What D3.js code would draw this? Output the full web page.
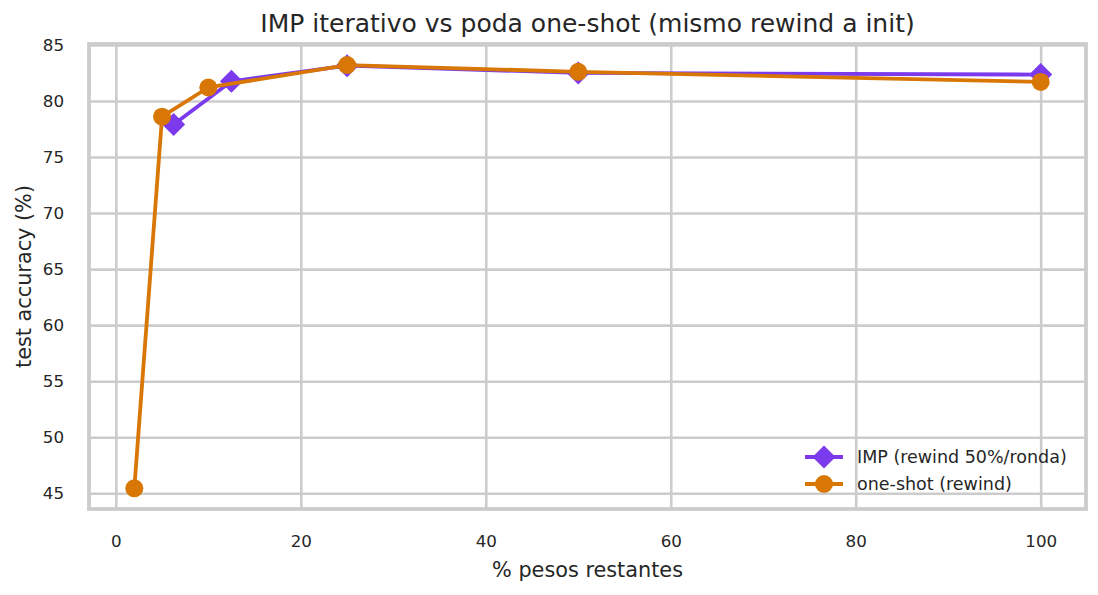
<!DOCTYPE html>
<html>
<head>
<meta charset="utf-8">
<script src="https://cdn.jsdelivr.net/npm/d3@7"></script>
<style>
  body { margin: 0; background: #fff; }
  text { font-family: "DejaVu Sans", sans-serif; fill: #262626; }
</style>
</head>
<body>
<svg width="1098" height="595"></svg>
<script>
// **** data ****
var impX = [100, 50, 25, 12.5, 6.25];
var impY = [82.35, 82.5, 83.15, 81.75, 77.9];
var oneX = [100, 50, 25, 10, 5, 2];
var oneY = [81.7, 82.6, 83.2, 81.2, 78.6, 45.45];
var xTicks = [0, 20, 40, 60, 80, 100];
var yTicks = [45, 50, 55, 60, 65, 70, 75, 80, 85];
var seriesNames = ["IMP (rewind 50%/ronda)", "one-shot (rewind)"];

var purple = "#7c3aed", orange = "#d97706", grid = "#cccccc";

var plotLeft = 89, plotRight = 1086, plotTop = 44, plotBottom = 509;

var xScale = d3.scaleLinear().domain([-2.9, 104.9]).range([plotLeft, plotRight]);
var yScale = d3.scaleLinear().domain([43.6, 85.08]).range([plotBottom, plotTop]);

var svg = d3.select("svg");

// grid
svg.append("g").attr("class", "x grid")
    .attr("transform", "translate(0," + plotBottom + ")")
    .call(d3.axisBottom(xScale).tickValues(xTicks).tickSize(-(plotBottom - plotTop)).tickFormat(""))
    .call(function(g) {
        g.select(".domain").remove();
        g.selectAll("line").attr("stroke", grid).attr("stroke-width", 2.6);
    });

svg.append("g").attr("class", "y grid")
    .attr("transform", "translate(" + plotLeft + ",0)")
    .call(d3.axisLeft(yScale).tickValues(yTicks).tickSize(-(plotRight - plotLeft)).tickFormat(""))
    .call(function(g) {
        g.select(".domain").remove();
        g.selectAll("line").attr("stroke", grid).attr("stroke-width", 2.6);
    });

// tick labels
svg.append("g").attr("class", "x axis")
    .attr("transform", "translate(0," + plotBottom + ")")
    .call(d3.axisBottom(xScale).tickValues(xTicks).tickSize(0).tickPadding(26))
    .call(function(g) {
        g.select(".domain").remove();
        g.selectAll("text").style("font-size", "16.7px").attr("fill", "#262626")
            .style("font-family", "DejaVu Sans");
    });

svg.append("g").attr("class", "y axis")
    .attr("transform", "translate(" + plotLeft + ",0)")
    .call(d3.axisLeft(yScale).tickValues(yTicks).tickSize(0).tickPadding(25))
    .call(function(g) {
        g.select(".domain").remove();
        g.selectAll("text").style("font-size", "16.7px").attr("fill", "#262626")
            .style("font-family", "DejaVu Sans");
    });

// frame
svg.append("rect")
    .attr("x", plotLeft).attr("y", plotTop)
    .attr("width", plotRight - plotLeft).attr("height", plotBottom - plotTop)
    .attr("fill", "none").attr("stroke", grid).attr("stroke-width", 3.8);

// labels and title
svg.append("text")
    .attr("text-anchor", "middle")
    .attr("x", (plotLeft + plotRight) / 2).attr("y", 32)
    .style("font-size", "25px")
    .text("IMP iterativo vs poda one-shot (mismo rewind a init)");

svg.append("text")
    .attr("text-anchor", "middle")
    .attr("x", (plotLeft + plotRight) / 2).attr("y", 577)
    .style("font-size", "20.8px")
    .text("% pesos restantes");

svg.append("text")
    .attr("text-anchor", "middle")
    .attr("transform", "translate(31," + (plotTop + plotBottom) / 2 + ") rotate(-90)")
    .style("font-size", "20.8px")
    .text("test accuracy (%)");

// series
var line = d3.line()
    .x(function(d) { return xScale(d[0]); })
    .y(function(d) { return yScale(d[1]); });

var impData = d3.zip(impX, impY);
var oneData = d3.zip(oneX, oneY);

var diamond = "M0,-11.5L11.5,0L0,11.5L-11.5,0Z";

svg.append("path").datum(impData)
    .attr("d", line).attr("fill", "none")
    .attr("stroke", purple).attr("stroke-width", 3.8).attr("stroke-linejoin", "round");

svg.selectAll("path.imp").data(impData).enter().append("path")
    .attr("class", "imp")
    .attr("d", diamond)
    .attr("transform", function(d) { return "translate(" + xScale(d[0]) + "," + yScale(d[1]) + ")"; })
    .attr("fill", purple);

svg.append("path").datum(oneData)
    .attr("d", line).attr("fill", "none")
    .attr("stroke", orange).attr("stroke-width", 3.8).attr("stroke-linejoin", "round");

svg.selectAll("circle.one").data(oneData).enter().append("circle")
    .attr("class", "one")
    .attr("cx", function(d) { return xScale(d[0]); })
    .attr("cy", function(d) { return yScale(d[1]); })
    .attr("r", 9)
    .attr("fill", orange);

// legend
var legend = svg.append("g").attr("transform", "translate(805,457)");
[purple, orange].forEach(function(c, i) {
    var row = legend.append("g").attr("transform", "translate(0," + (i * 27) + ")");
    row.append("line").attr("x1", 0).attr("x2", 38)
        .attr("stroke", c).attr("stroke-width", 3.8);
    if (i === 0) {
        row.append("path").attr("d", diamond).attr("transform", "translate(19,0)").attr("fill", c);
    } else {
        row.append("circle").attr("cx", 19).attr("r", 9).attr("fill", c);
    }
    row.append("text").attr("x", 52).attr("dy", "0.35em")
        .style("font-size", "17.5px")
        .text(seriesNames[i]);
});
</script>
</body>
</html>
